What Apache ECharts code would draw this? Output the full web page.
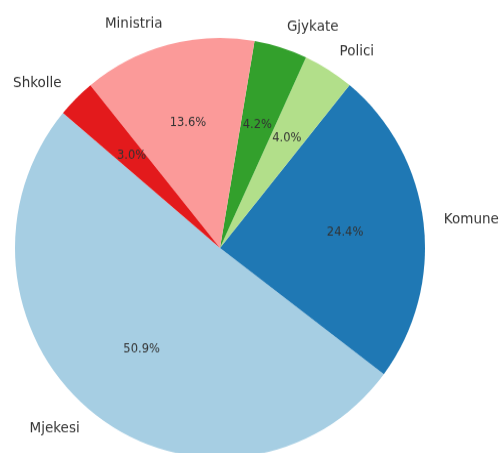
<!DOCTYPE html>
<html>
<head>
<meta charset="utf-8">
<script src="https://cdn.jsdelivr.net/npm/echarts@6/dist/echarts.min.js"></script>
<style>
  html, body { margin: 0; padding: 0; background: #fff; overflow: hidden; width: 501px; height: 453px; }
  /* the reference pie is a touch taller than wide, so stretch the chart a little */
  #main { width: 501px; height: 470px; transform: scaleY(1.0244); transform-origin: 0 0; }
</style>
</head>
<body>
<div id="main"></div>
<script>
// slices, counter-clockwise from the start angle
var categories = ["Mjekesi", "Komune", "Polici", "Gjykate", "Ministria", "Shkolle"];
var shares = [50.9, 24.4, 4.0, 4.2, 13.6, 3.0];
var colors = ["#a6cee3", "#1f78b4", "#b2df8a", "#33a02c", "#fb9a99", "#e31a1c"];

var R = 205;
var pieData = [];
for (var i = 0; i < categories.length; i++) {
  pieData.push({ name: categories[i], value: shares[i], itemStyle: { color: colors[i] } });
}

var myChart = echarts.init(document.getElementById("main"));
myChart.setOption({
  animation: false,
  series: [
    {
      // the pie itself + outside names
      type: "pie",
      center: [220, 242],
      radius: R,
      startAngle: 140,
      clockwise: false,
      avoidLabelOverlap: false,
      silent: true,
      itemStyle: { borderWidth: 0 },
      label: {
        position: "outside",
        color: "#333",
        fontFamily: "DejaVu Sans",
        fontSize: 13.5,
        formatter: "{b}"
      },
      labelLine: { show: false, length: 0.1 * R, length2: -5 },
      data: pieData
    },
    {
      // transparent overlay, only for the percent labels at 0.6 R
      type: "pie",
      center: [220, 242],
      radius: [0.2 * R, R],
      startAngle: 140,
      clockwise: false,
      avoidLabelOverlap: false,
      silent: true,
      itemStyle: { color: "transparent", borderWidth: 0 },
      label: {
        position: "inside",
        color: "#333",
        fontFamily: "DejaVu Sans",
        fontSize: 11.5,
        formatter: function (p) { return p.value.toFixed(1) + "%"; }
      },
      labelLine: { show: false },
      data: shares.map(function (v, i) { return { name: categories[i], value: v }; })
    }
  ]
});
</script>
</body>
</html>
